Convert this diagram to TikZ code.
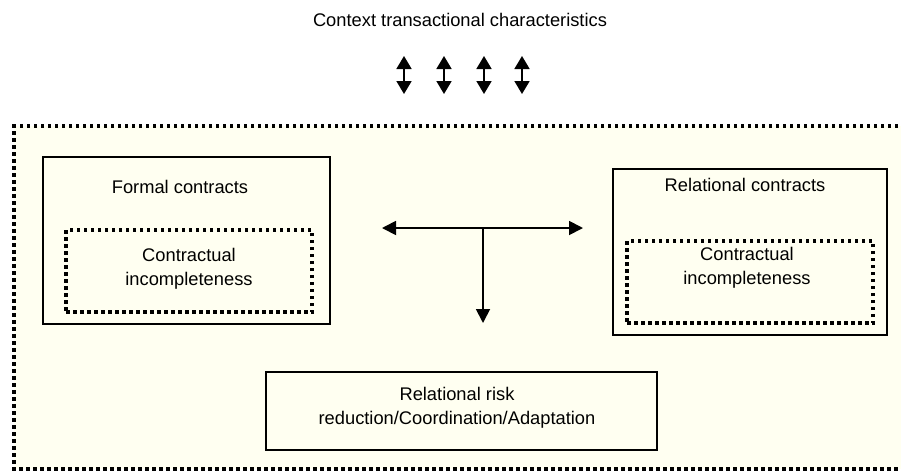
\documentclass[tikz,border=0pt]{standalone}
\usepackage{fontspec}
\setmainfont{Liberation Sans}
\usetikzlibrary{arrows.meta}
\definecolor{cream}{RGB}{255,255,241}
\begin{document}
\begin{tikzpicture}[x=1pt,y=-1pt,
  txt/.style={font=\fontsize{18.3}{24}\selectfont, align=center, inner sep=0pt},
  solidbox/.style={draw=black, line width=1.8pt, fill=cream, inner sep=0pt},
  dotbox/.style={draw=black, line width=3.5pt, dash pattern=on 3.5pt off 3.5pt, inner sep=0pt},
  arr/.style={line width=1.8pt, -{Triangle[length=14pt,width=14pt]}},
  darr/.style={line width=1.8pt, {Triangle[length=13pt,width=15pt]}-{Triangle[length=13pt,width=15pt]}}
]
\useasboundingbox (0,0) rectangle (901,475);
\fill[white] (0,0) rectangle (901,475);
% outer dotted region
\fill[cream] (14,126) rectangle (901,469);
\draw[line width=3.5pt, dash pattern=on 3.5pt off 3.5pt] (905,126) -- (14,126) -- (14,469) -- (905,469);

% title
\node[txt] (title) at (460,20) {Context transactional characteristics};

% top double arrows
\foreach \i/\x in {1/404,2/444,3/484,4/522}{
  \coordinate (u\i) at (\x,56);
  \coordinate (d\i) at (\x,94);
  \draw[darr] (u\i) -- (d\i);
}

% formal contracts
\node[solidbox, minimum width=287pt, minimum height=167pt] (formal) at (186.5,240.5) {};
\node[txt] (formalt) at (180,187) {Formal contracts};
\node[dotbox, minimum width=246pt, minimum height=82pt] (fin) at (189,271) {};
\node[txt] (fint) at (189,269) {Contractual\\incompleteness};

% relational contracts
\node[solidbox, minimum width=274pt, minimum height=166pt] (rel) at (750,252) {};
\node[txt] (relt) at (745,185) {Relational contracts};
\node[dotbox, minimum width=246pt, minimum height=82pt] (rin) at (750,282) {};
\node[txt] (rint) at (747,268) {Contractual\\incompleteness};

% bottom box
\node[solidbox, minimum width=391pt, minimum height=78pt] (risk) at (461.5,411) {};
\node[txt] (riskt) at (457,408) {Relational risk\\reduction/Coordination/Adaptation};

% T arrows
\coordinate (hl) at (382,228);
\coordinate (hr) at (583,228);
\coordinate (tj) at (483,228);
\coordinate (td) at (483,323);
\draw[arr] (tj) -- (hl);
\draw[arr] (tj) -- (hr);
\draw[arr] (tj) -- (td);
\end{tikzpicture}
\end{document}
